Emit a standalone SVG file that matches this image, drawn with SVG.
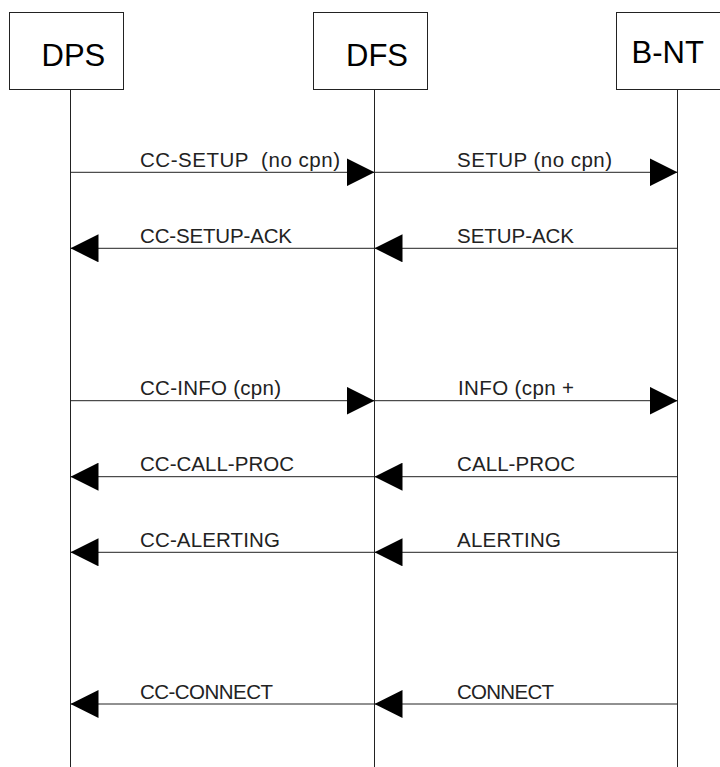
<svg xmlns="http://www.w3.org/2000/svg" width="720" height="767" viewBox="0 0 720 767">
<style>
.box{fill:#fff;stroke:#222;stroke-width:1}
.life{stroke:#222;stroke-width:1}
.msg{stroke:#222;stroke-width:1;fill:none;marker-end:url(#ah)}
.title{font-family:"Liberation Sans",Arial,sans-serif;font-size:31px;fill:#000}
.lbl{font-family:"Liberation Sans",Arial,sans-serif;font-size:20.5px;fill:#222;white-space:pre}
</style>
<defs>
<marker id="ah" markerUnits="userSpaceOnUse" markerWidth="28" markerHeight="28" refX="28" refY="14" orient="auto" viewBox="0 0 28 28">
<path d="M0,0 L28,14 L0,28 Z" fill="#000"/>
</marker>
</defs>
<rect width="720" height="767" fill="#fff"/>
<g id="DPS">
<rect class="box" x="9.5" y="12.5" width="114" height="77"/>
<text class="title" x="41.5" y="65.7">DPS</text>
<line class="life" x1="70.5" y1="89.5" x2="70.5" y2="767"/>
</g>
<g id="DFS">
<rect class="box" x="313.5" y="12.5" width="114" height="77"/>
<text class="title" x="346" y="65.7">DFS</text>
<line class="life" x1="374.5" y1="89.5" x2="374.5" y2="767"/>
</g>
<g id="BNT">
<rect class="box" x="616.5" y="12.5" width="114" height="77"/>
<text class="title" x="631.5" y="62.7">B-NT</text>
<line class="life" x1="677.5" y1="89.5" x2="677.5" y2="767"/>
</g>
<g id="connectors">
<line class="msg" x1="70.5" y1="172.3" x2="374.5" y2="172.3"/>
<line class="msg" x1="374.5" y1="172.3" x2="677.5" y2="172.3"/>
<line class="msg" x1="677.5" y1="248.3" x2="374.5" y2="248.3"/>
<line class="msg" x1="374.5" y1="248.3" x2="70.5" y2="248.3"/>
<line class="msg" x1="70.5" y1="400.7" x2="374.5" y2="400.7"/>
<line class="msg" x1="374.5" y1="400.7" x2="677.5" y2="400.7"/>
<line class="msg" x1="677.5" y1="476.7" x2="374.5" y2="476.7"/>
<line class="msg" x1="374.5" y1="476.7" x2="70.5" y2="476.7"/>
<line class="msg" x1="677.5" y1="552.3" x2="374.5" y2="552.3"/>
<line class="msg" x1="374.5" y1="552.3" x2="70.5" y2="552.3"/>
<line class="msg" x1="677.5" y1="704" x2="374.5" y2="704"/>
<line class="msg" x1="374.5" y1="704" x2="70.5" y2="704"/>
</g>
<g id="labels">
<text class="lbl" x="140" y="166.7" textLength="200" lengthAdjust="spacing">CC-SETUP  (no cpn)</text>
<text class="lbl" x="457" y="166.7" textLength="155" lengthAdjust="spacing">SETUP (no cpn)</text>
<text class="lbl" x="140" y="243" textLength="152" lengthAdjust="spacing">CC-SETUP-ACK</text>
<text class="lbl" x="457" y="243" textLength="117" lengthAdjust="spacing">SETUP-ACK</text>
<text class="lbl" x="140" y="395" textLength="141" lengthAdjust="spacing">CC-INFO (cpn)</text>
<text class="lbl" x="458" y="395" textLength="116" lengthAdjust="spacing">INFO (cpn +</text>
<text class="lbl" x="140" y="471" textLength="154" lengthAdjust="spacing">CC-CALL-PROC</text>
<text class="lbl" x="457" y="471" textLength="118" lengthAdjust="spacing">CALL-PROC</text>
<text class="lbl" x="140" y="546.7" textLength="140" lengthAdjust="spacing">CC-ALERTING</text>
<text class="lbl" x="457" y="546.7" textLength="104" lengthAdjust="spacing">ALERTING</text>
<text class="lbl" x="140" y="699" textLength="133" lengthAdjust="spacing">CC-CONNECT</text>
<text class="lbl" x="457" y="699" textLength="97" lengthAdjust="spacing">CONNECT</text>
</g>
</svg>
